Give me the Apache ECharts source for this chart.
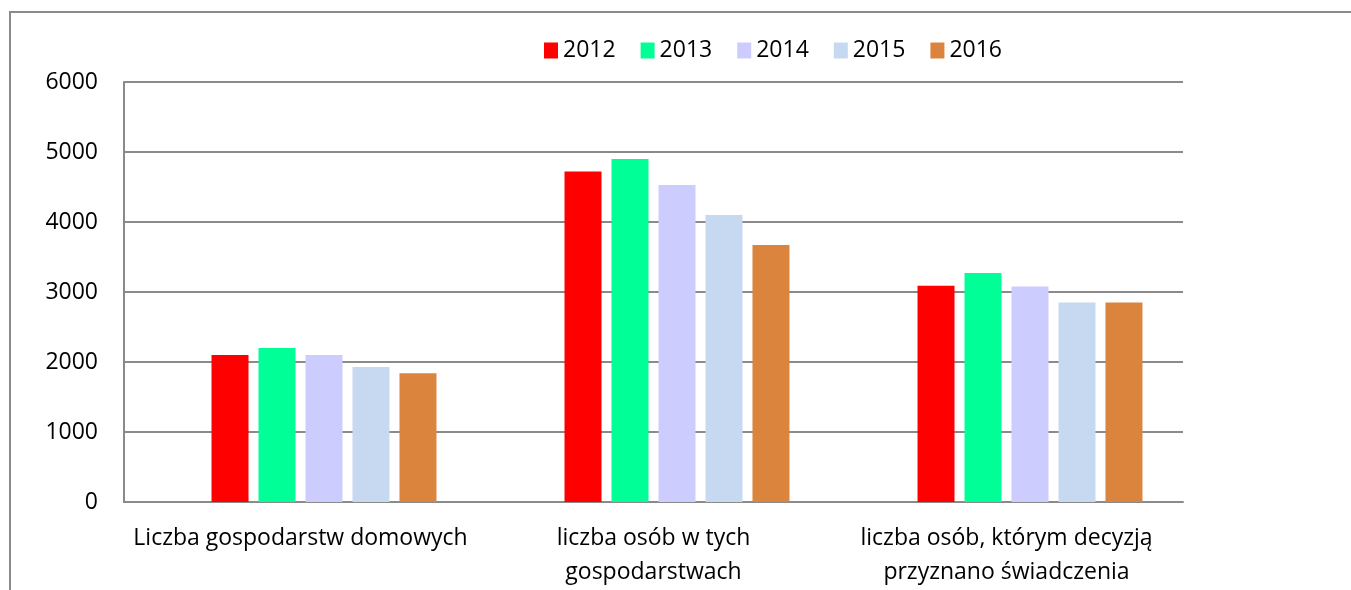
<!DOCTYPE html>
<html>
<head>
<meta charset="utf-8">
<script src="https://cdn.jsdelivr.net/npm/echarts@6/dist/echarts.min.js"></script>
<style>
  html, body { margin: 0; padding: 0; background: #fff; }
  #chart { width: 1351px; height: 590px; }
</style>
</head>
<body>
<div id="chart"></div>
<script>
// data
const categories = [
  "Liczba gospodarstw domowych",
  "liczba osób w tych\ngospodarstwach",
  "liczba osób, którym decyzją\nprzyznano świadczenia"
];
const years = ["2012", "2013", "2014", "2015", "2016"];
const v2012 = [2100, 4720, 3090];
const v2013 = [2200, 4900, 3270];
const v2014 = [2100, 4530, 3080];
const v2015 = [1930, 4100, 2850];
const v2016 = [1840, 3670, 2850];
const yTicks = [0, 1000, 2000, 3000, 4000, 5000, 6000];

const colors = ["#FF0000", "#00FF96", "#CCCCFF", "#C6D9F1", "#DB843D"];
const values = [v2012, v2013, v2014, v2015, v2016];
const font = "Open Sans";
const fs = 23;

// the original chart keeps an empty slot before 2012 in every group
let series = [{
  name: "",
  type: "bar",
  data: [null, null, null],
  barWidth: 37,
  barGap: "27%",
}];
years.forEach((y, i) => {
  series.push({
    name: y,
    type: "bar",
    data: values[i],
    barWidth: 37,
    barGap: "27%",
    itemStyle: { color: colors[i] },
  });
});

let chart = echarts.init(document.getElementById("chart"));
chart.setOption({
  animation: false,
  textStyle: { fontFamily: font },
  graphic: [{
    type: "rect",
    shape: { x: 10, y: 12, width: 1400, height: 700 },
    style: { fill: "none", stroke: "#8a8a8a", lineWidth: 2 },
    silent: true,
  }],
  legend: {
    data: years,
    left: 539,
    top: 34,
    itemWidth: 14,
    itemHeight: 16,
    itemGap: 25,
    icon: "rect",
    textStyle: { fontFamily: font, fontSize: fs, color: "#000" },
  },
  grid: { left: 124, right: 168, top: 82, bottom: 88 },
  xAxis: {
    type: "category",
    data: categories,
    axisLine: { show: true, lineStyle: { color: "#8a8a8a", width: 2 } },
    axisTick: { show: false },
    axisLabel: {
      interval: 0,
      margin: 19,
      fontSize: fs,
      lineHeight: 34,
      color: "#000",
      fontFamily: font,
    },
  },
  yAxis: {
    type: "value",
    min: yTicks[0],
    max: yTicks[yTicks.length - 1],
    interval: 1000,
    axisLine: { show: true, lineStyle: { color: "#8a8a8a", width: 2 } },
    axisTick: { show: false },
    axisLabel: {
      margin: 26,
      fontSize: fs,
      color: "#000",
      fontFamily: font,
      formatter: (v) => String(v),
    },
    splitLine: { lineStyle: { color: "#8a8a8a", width: 2 } },
  },
  series: series,
});
</script>
</body>
</html>
